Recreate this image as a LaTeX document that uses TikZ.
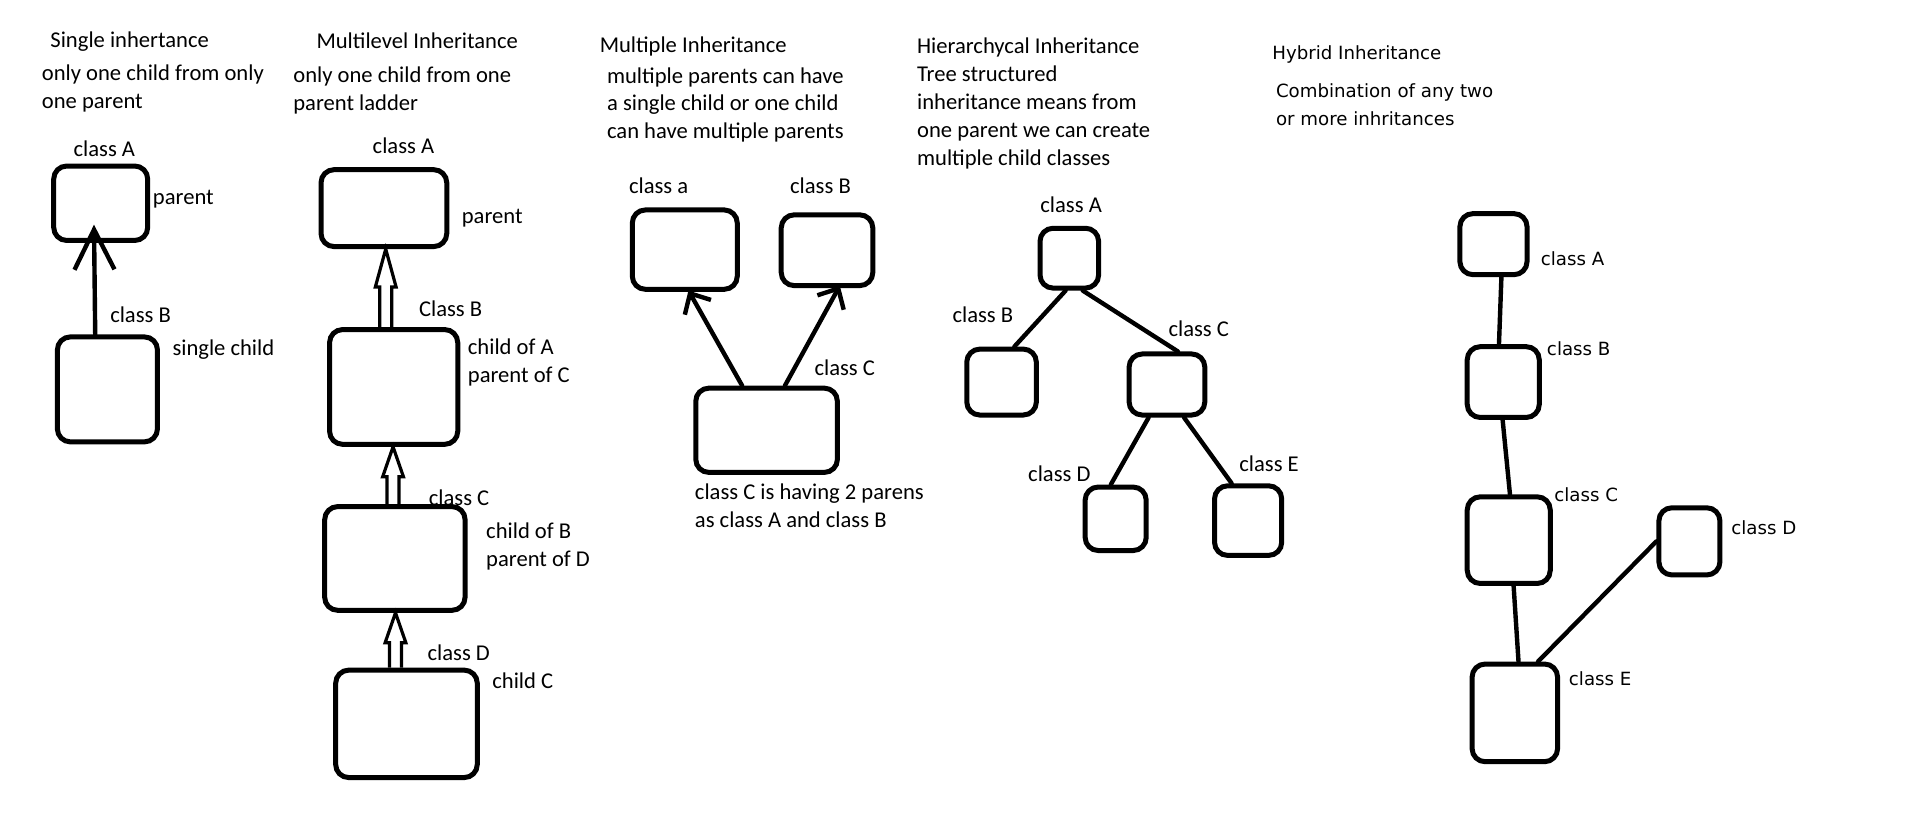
\documentclass[tikz,border=0pt]{standalone}
\usepackage{fontspec}
\setmainfont{Carlito}
\newfontfamily\hyb{DejaVu Sans}
\usetikzlibrary{calc,fit,arrows.meta}
\newcommand\hollowarrow[3]{%
  \draw[hollow] let \p1=(#1), \p2=(#2) in
   (\x2-3pt,\y1) -- (\x2-3pt,\y2-#3) -- (\x2-5.2pt,\y2-#3) -- (\x2,\y2)
   -- (\x2+5.2pt,\y2-#3) -- (\x2+3pt,\y2-#3) -- (\x2+3pt,\y1);}
\begin{document}
\begin{tikzpicture}[x=0.61035pt,y=-0.61035pt,
  box/.style={draw, rounded corners=6.5pt, line width=2.5pt, inner sep=0pt},
  conn/.style={line width=2.2pt, line cap=round},
  bigv/.style={-{Straight Barb[length=20pt,width=20pt]}},
  smallv/.style={-{Straight Barb[length=8pt,width=15pt]}},
  txt/.style={anchor=west, inner sep=0pt, align=left, font=\fontsize{11.3}{14}\selectfont},
  htxt/.style={anchor=west, inner sep=0pt, align=left, font=\hyb\fontsize{9.1}{14}\selectfont},
  hollow/.style={line width=1.6pt, line join=miter}
]
\fill[white] (0,0) rectangle (1568,678);
\useasboundingbox (0,0) rectangle (1568,678);

% ---------- Single inheritance ----------
\node[txt] (t1) at (41,34) {Single inhertance};
\node[txt] (d1) at (34,72.5) {only one child from only\\one parent};
\node[txt] (s1) at (60,122) {class A};
\node[box, fit={(44,136) (121,197)}] (sA) {};
\node[txt] (s2) at (125,163) {parent};
\node[txt] (s3) at (90,258) {class B};
\node[box, fit={(47,276) (129,362)}] (sB) {};
\node[txt] (s4) at (141,286) {single child};
\draw[conn, bigv] ($(sB.north)+(-10,0)$) -- ($(sA.south)+(-5.5,-15)$);

% ---------- Multilevel inheritance ----------
\node[txt] (t2) at (259,33) {Multilevel Inheritance};
\node[txt] (d2) at (240,74) {only one child from one\\parent ladder};
\node[txt] (m1) at (305,119) {class A};
\node[box, fit={(263,139) (366,202)}] (mA) {};
\node[txt] (m2) at (378,179) {parent};
\node[txt] (m3) at (343,253) {Class B};
\node[box, fit={(270,270) (375,364)}] (mB) {};
\node[txt] (m4) at (383,297) {child of A\\parent of C};
\node[box, fit={(266,415) (381,500)}] (mC) {};
\node[txt] (m5) at (351,408) {class C};
\node[txt] (m6) at (398,447.5) {child of B\\parent of D};
\node[txt] (m7) at (350,535) {class D};
\node[box, fit={(275,549) (391,637)}] (mD) {};
\node[txt] (m8) at (403,558) {child C};
\hollowarrow{$(mB.north)+(-6.5,0)$}{$(mA.south)+(1.5,0)$}{19pt}
\hollowarrow{$(mC.north)+(-1.5,0)$}{$(mB.south)+(-0.5,0)$}{15pt}
\hollowarrow{$(mD.north)+(-9,0)$}{$(mC.south)+(0.5,0)$}{15pt}

% ---------- Multiple inheritance ----------
\node[txt] (t3) at (491,38) {Multiple Inheritance};
\node[txt] (d3) at (497,86) {multiple parents can have\\a single child or one child\\can have multiple parents};
\node[txt] (p1) at (515,152) {class a};
\node[txt] (p2) at (647,152) {class B};
\node[box, fit={(518,172) (604,237)}] (pa) {};
\node[box, fit={(640,176) (715,234)}] (pB) {};
\node[box, fit={(570,318) (686,387)}] (pC) {};
\node[txt] (p3) at (667,301) {class C};
\node[txt] (p4) at (569,414.5) {class C is having 2 parens\\as class A and class B};
\draw[conn, smallv] ($(pC.north)+(-20,0)$) -- ($(pa.south)+(3,-1)$);
\draw[conn, smallv] ($(pC.north)+(15,0)$) -- ($(pB.south)+(10.5,-2)$);

% ---------- Hierarchical inheritance ----------
\node[txt] (t4) at (751,39) {Hierarchycal Inheritance};
\node[txt] (d4) at (751,96.5) {Tree structured\\inheritance means from\\one parent we can create\\multiple child classes};
\node[txt] (h1) at (852,168) {class A};
\node[box, fit={(852,187) (900,236)}] (hA) {};
\node[txt] (h2) at (780,258) {class B};
\node[box, fit={(792,286) (849,340)}] (hB) {};
\node[txt] (h3) at (957,269) {class C};
\node[box, fit={(925,290) (987,340)}] (hC) {};
\node[txt] (h4) at (842,388) {class D};
\node[box, fit={(889,399) (939,451)}] (hD) {};
\node[txt] (h5) at (1015,380) {class E};
\node[box, fit={(995,398) (1050,455)}] (hE) {};
\draw[conn] ($(hA.south)+(-3,0)$) -- ($(hB.north)+(10.5,0)$);
\draw[conn] ($(hA.south)+(11,0)$) -- ($(hC.north)+(9,0)$);
\draw[conn] ($(hC.south)+(-15,0)$) -- ($(hD.north)+(-4,0)$);
\draw[conn] ($(hC.south)+(14,0)$) -- ($(hE.north)+(-13.5,0)$);

% ---------- Hybrid inheritance ----------
\node[htxt] (t5) at (1042,45) {Hybrid Inheritance};
\node[htxt] (d5) at (1045,85.5) {Combination of any two\\or more inhritances};
\node[box, fit={(1196,175) (1251,225)}] (yA) {};
\node[htxt] (y1) at (1262,212) {class A};
\node[box, fit={(1202,284) (1261,342)}] (yB) {};
\node[htxt] (y2) at (1267,286) {class B};
\node[box, fit={(1202,407) (1270,478)}] (yC) {};
\node[htxt] (y3) at (1273,405) {class C};
\node[box, fit={(1359,416) (1409,471)}] (yD) {};
\node[htxt] (y4) at (1418,432) {class D};
\node[box, fit={(1206,544) (1276,624)}] (yE) {};
\node[htxt] (y5) at (1285,556) {class E};
\draw[conn] ($(yA.south)+(6.5,0)$) -- ($(yB.north)+(-3.5,0)$);
\draw[conn] ($(yB.south)+(-0.5,0)$) -- ($(yC.north)+(1,0)$);
\draw[conn] ($(yC.south)+(4,0)$) -- ($(yE.north)+(3,0)$);
\draw[conn] (yD.west) -- ($(yE.north)+(19,0)$);
\end{tikzpicture}
\end{document}
